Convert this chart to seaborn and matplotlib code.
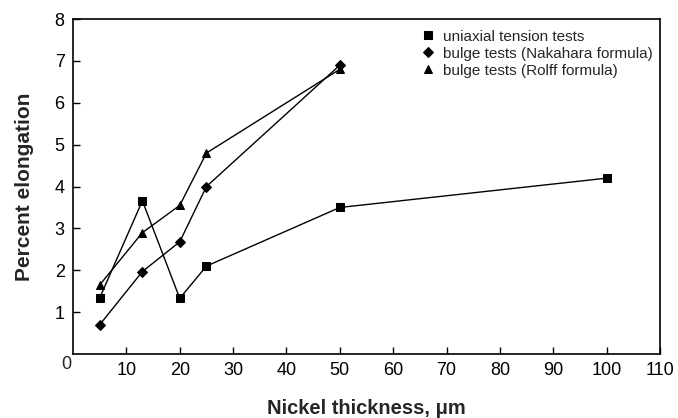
import matplotlib
matplotlib.use("Agg")
import matplotlib.pyplot as plt
import seaborn as sns
import pandas as pd

# Data
uni_x = [5, 13, 20, 25, 50, 100]
uni_y = [1.34, 3.66, 1.33, 2.1, 3.5, 4.2]
nak_x = [5, 13, 20, 25, 50]
nak_y = [0.7, 1.97, 2.68, 4.0, 6.9]
rol_x = [5, 13, 20, 25, 50]
rol_y = [1.65, 2.9, 3.55, 4.8, 6.8]
labels = ["uniaxial tension tests", "bulge tests (Nakahara formula)", "bulge tests (Rolff formula)"]
x_ticks = [10, 20, 30, 40, 50, 60, 70, 80, 90, 100, 110]
y_ticks = [1, 2, 3, 4, 5, 6, 7, 8]

sns.set_theme(style="white")
plt.rcParams['font.family'] = ['Liberation Sans', 'DejaVu Sans']

df = pd.concat([
    pd.DataFrame({"x": uni_x, "y": uni_y, "s": labels[0]}),
    pd.DataFrame({"x": nak_x, "y": nak_y, "s": labels[1]}),
    pd.DataFrame({"x": rol_x, "y": rol_y, "s": labels[2]}),
])

fig = plt.figure(figsize=(6.78, 4.18), dpi=100)
ax = fig.add_axes([0.1077, 0.153, 0.8658, 0.8015])
sns.lineplot(data=df, x="x", y="y", style="s", hue="s",
             palette=["black"] * 3, markers={labels[0]: "s", labels[1]: "D", labels[2]: "^"},
             dashes=False, markersize=6, linewidth=1.0, markeredgecolor="black",
             ax=ax, sort=False)
for line in ax.lines:
    if line.get_marker() == "D":
        line.set_markersize(5)

ax.set_xlim(0, 110)
ax.set_ylim(0, 8)
ax.set_xticks(x_ticks)
ax.set_yticks(y_ticks)
ax.tick_params(axis="both", direction="in", length=5, width=1, labelsize=13,
               bottom=True, left=True, top=False, right=False, colors="black", pad=6)
ax.text(-0.3, -0.25, "0", ha="right", va="center", fontsize=13, transform=ax.transData, clip_on=False)
for s in ax.spines.values():
    s.set_color("black")
    s.set_linewidth(1.2)

ax.set_xlabel("Nickel thickness, \u03bcm", fontsize=14.5, fontweight="bold", labelpad=14)
ax.set_ylabel("Percent elongation", fontsize=15, fontweight="bold", labelpad=15)

h, l = ax.get_legend_handles_labels()
leg = ax.legend(h, l, loc="upper left", bbox_to_anchor=(0.575, 1.0), frameon=False,
                fontsize=11, handlelength=0.9, handletextpad=0.5, labelspacing=0.2,
                borderaxespad=0.3)
for lh in leg.legend_handles:
    lh.set_linestyle("None")

fig.savefig("out.png", dpi=100)
